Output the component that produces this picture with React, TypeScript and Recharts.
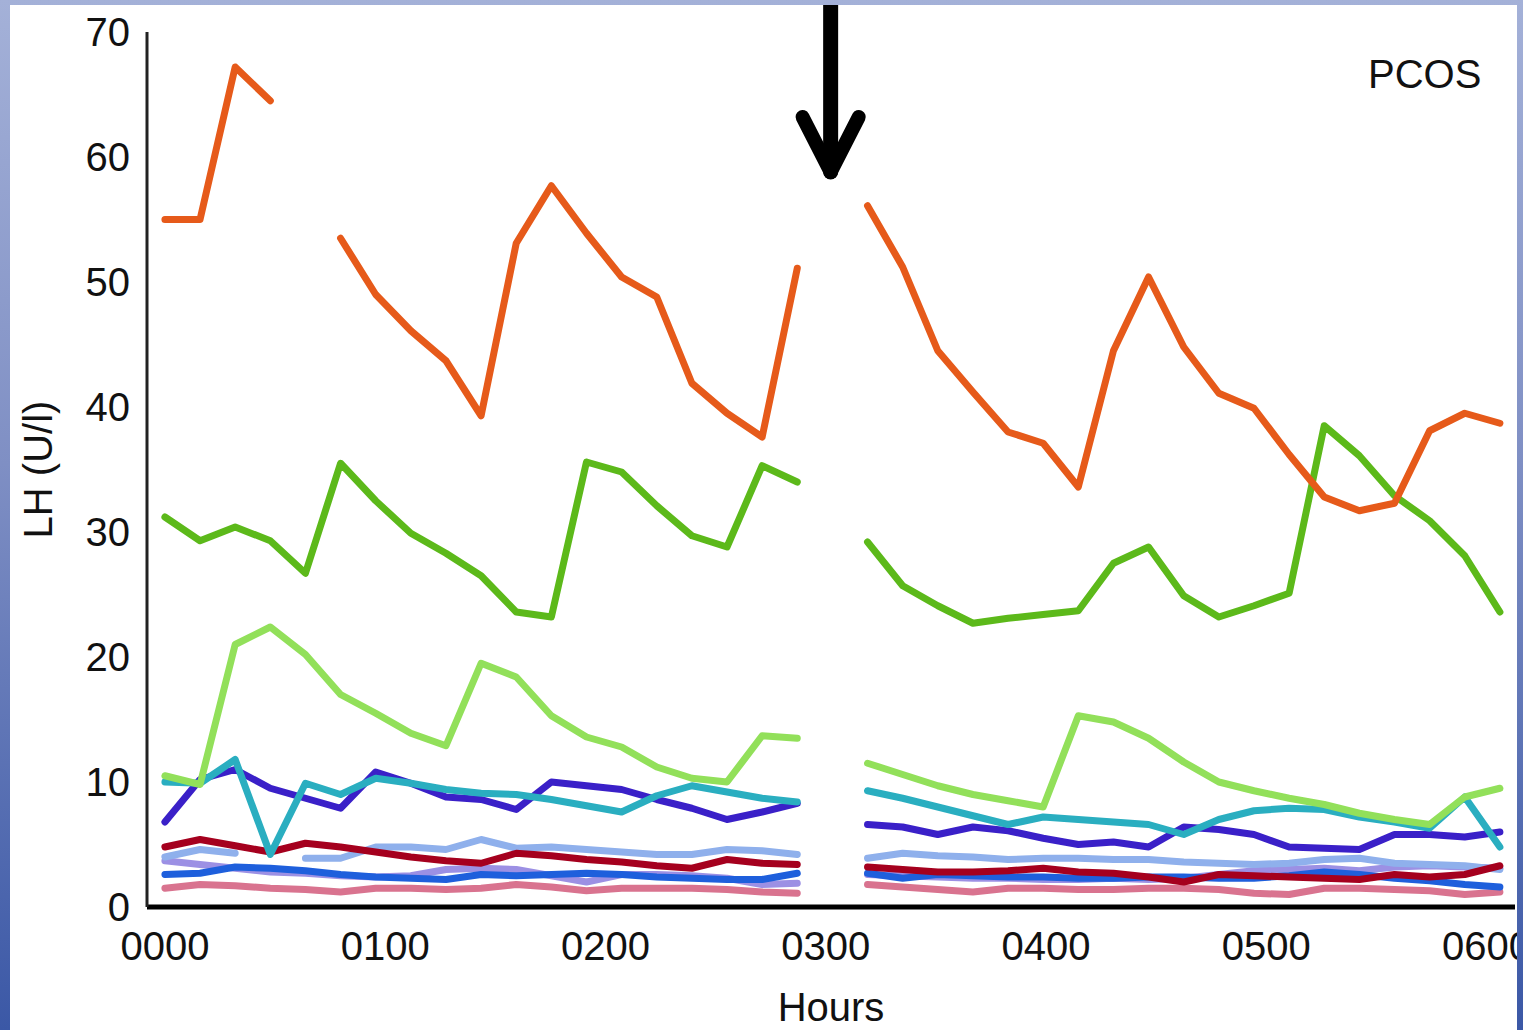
import { LineChart, Line, XAxis, YAxis, ReferenceLine } from "recharts";

const FONT = '"Liberation Sans", Arial, Helvetica, sans-serif';

// x axis: one slot per sample, slot 19 is the break in the recording
const hourLabels = ["0000", "0100", "0200", "0300", "0400", "0500", "0600"];
const SLOTS_PER_HOUR = 6.27;
const yTicks = [0, 10, 20, 30, 40, 50, 60, 70];

// LH (U/l) per patient
const orange = [55, 55, 67.2, 64.5, null, 53.5, 49, 46.1, 43.7, 39.3, 53.1, 57.7, 53.9, 50.4, 48.8, 41.9, 39.5, 37.6, 51.1, null, 56.1, 51.2, 44.5, 41.2, 38.0, 37.1, 33.6, 44.5, 50.4, 44.8, 41.1, 39.9, 36.2, 32.8, 31.7, 32.3, 38.1, 39.5, 38.7];
const green = [31.2, 29.3, 30.4, 29.3, 26.7, 35.5, 32.5, 29.9, 28.3, 26.5, 23.6, 23.2, 35.6, 34.8, 32.1, 29.7, 28.8, 35.3, 34.0, null, 29.2, 25.7, 24.1, 22.7, 23.1, 23.4, 23.7, 27.5, 28.8, 24.9, 23.2, 24.1, 25.1, 38.5, 36.1, 32.9, 30.9, 28.1, 23.6];
const lightGreen = [10.5, 9.8, 21.0, 22.4, 20.2, 17.0, 15.5, 13.9, 12.9, 19.5, 18.4, 15.3, 13.6, 12.8, 11.2, 10.3, 10.0, 13.7, 13.5, null, 11.5, 10.6, 9.7, 9.0, 8.5, 8.0, 15.3, 14.8, 13.5, 11.6, 10.0, 9.3, 8.7, 8.2, 7.5, 7.0, 6.6, 8.8, 9.5];
const indigo = [6.8, 10.2, 11.0, 9.5, 8.7, 7.9, 10.8, 9.9, 8.8, 8.6, 7.8, 10.0, 9.7, 9.4, 8.6, 7.9, 7.0, 7.6, 8.3, null, 6.6, 6.4, 5.8, 6.4, 6.1, 5.5, 5.0, 5.2, 4.8, 6.4, 6.2, 5.8, 4.8, 4.7, 4.6, 5.8, 5.8, 5.6, 6.0];
const teal = [10.0, 9.9, 11.8, 4.2, 9.9, 9.0, 10.3, 9.9, 9.4, 9.1, 9.0, 8.6, 8.1, 7.6, 8.9, 9.7, 9.2, 8.7, 8.4, null, 9.3, 8.7, 8.0, 7.3, 6.6, 7.2, 7.0, 6.8, 6.6, 5.8, 7.0, 7.7, 7.9, 7.8, 7.2, 6.8, 6.3, 8.8, 4.8];
const darkRed = [4.8, 5.4, 4.9, 4.4, 5.1, 4.8, 4.4, 4.0, 3.7, 3.5, 4.3, 4.1, 3.8, 3.6, 3.3, 3.1, 3.8, 3.5, 3.4, null, 3.2, 3.0, 2.8, 2.8, 2.9, 3.1, 2.8, 2.7, 2.4, 2.0, 2.6, 2.5, 2.4, 2.3, 2.2, 2.6, 2.4, 2.6, 3.3];
const lightBlue = [4.0, 4.6, 4.3, null, 3.9, 3.9, 4.8, 4.8, 4.6, 5.4, 4.7, 4.8, 4.6, 4.4, 4.2, 4.2, 4.6, 4.5, 4.2, null, 3.9, 4.3, 4.1, 4.0, 3.8, 3.9, 3.9, 3.8, 3.8, 3.6, 3.5, 3.4, 3.5, 3.8, 3.9, 3.5, 3.4, 3.3, 3.0];
const blue = [2.6, 2.7, 3.2, 3.1, 2.9, 2.6, 2.4, 2.3, 2.2, 2.6, 2.5, 2.6, 2.7, 2.6, 2.4, 2.3, 2.2, 2.2, 2.7, null, 2.7, 2.3, 2.6, 2.5, 2.4, 2.4, 2.3, 2.3, 2.4, 2.4, 2.3, 2.3, 2.5, 2.8, 2.6, 2.3, 2.1, 1.8, 1.6];
const lavender = [3.7, 3.4, 3.1, 2.8, 2.7, 2.5, 2.4, 2.5, 3.0, 3.1, 3.0, 2.5, 2.0, 2.6, 2.6, 2.5, 2.3, 1.8, 1.9, null, 2.6, 2.5, 2.4, 2.3, 2.3, 2.2, 2.2, 2.3, 2.2, 2.3, 2.6, 2.9, 3.0, 3.1, 2.9, 3.2, 3.3, 3.2, 3.1];
const pink = [1.5, 1.8, 1.7, 1.5, 1.4, 1.2, 1.5, 1.5, 1.4, 1.5, 1.8, 1.6, 1.3, 1.5, 1.5, 1.5, 1.4, 1.2, 1.1, null, 1.8, 1.6, 1.4, 1.2, 1.5, 1.5, 1.4, 1.4, 1.5, 1.5, 1.4, 1.1, 1.0, 1.5, 1.5, 1.4, 1.3, 1.0, 1.2];

// drawing order: bottom first
const series = [
  { key: "pink", values: pink, color: "#D9738F" },
  { key: "lavender", values: lavender, color: "#9C90E4" },
  { key: "blue", values: blue, color: "#1E5FDC" },
  { key: "lightBlue", values: lightBlue, color: "#8FB0EC" },
  { key: "darkRed", values: darkRed, color: "#A5001E" },
  { key: "indigo", values: indigo, color: "#3A20C8" },
  { key: "teal", values: teal, color: "#2AAEC0" },
  { key: "lightGreen", values: lightGreen, color: "#92E05A" },
  { key: "green", values: green, color: "#5CB91A" },
  { key: "orange", values: orange, color: "#E65A1A" },
];

const data = orange.map((_, i) => {
  const row: Record<string, number | null> = { slot: i };
  series.forEach((s) => {
    row[s.key] = s.values[i];
  });
  return row;
});

const hourTicks = hourLabels.map((_, i) => i * SLOTS_PER_HOUR);

// the arrow sits over the gap slot
const ARROW_SLOT = 18.95;

export default function App() {
  return (
    <div
      style={{
        position: "absolute",
        left: 0,
        top: 0,
        width: 1523,
        height: 1030,
        background: "linear-gradient(to bottom, #A4B1D8 0%, #7F8FC4 45%, #3B58A6 100%)",
        overflow: "hidden",
        fontFamily: FONT,
      }}
    >
      <div
        style={{
          position: "absolute",
          left: 10,
          top: 5,
          width: 1507,
          height: 1025,
          background: "#fff",
          overflow: "hidden",
        }}
      >
        <LineChart
          width={1507}
          height={1025}
          data={data}
          margin={{ top: 27, right: 2, left: 0, bottom: 0 }}
        >
          <XAxis
            dataKey="slot"
            type="number"
            domain={[-0.51, 38.43]}
            allowDataOverflow
            ticks={hourTicks}
            interval={0}
            tickFormatter={(_v: number, i: number) => hourLabels[i]}
            tickLine={false}
            tickSize={0}
            tickMargin={25}
            axisLine={{ stroke: "#000", strokeWidth: 5 }}
            tick={{ fill: "#111", fontSize: 40, fontFamily: FONT }}
            height={123}
            label={{
              value: "Hours",
              position: "insideBottom",
              offset: 9,
              style: { fill: "#111", fontSize: 40, fontFamily: FONT },
            }}
          />
          <YAxis
            domain={[0, 70]}
            ticks={yTicks}
            interval={0}
            tickLine={false}
            tickSize={0}
            tickMargin={17}
            axisLine={{ stroke: "#222", strokeWidth: 3 }}
            tick={{ fill: "#111", fontSize: 40, fontFamily: FONT }}
            width={137}
            label={{
              value: "LH (U/l)",
              angle: -90,
              position: "center",
              dx: -41,
              style: { fill: "#111", fontSize: 40, fontFamily: FONT, textAnchor: "middle" },
            }}
          />
          {series.map((s) => (
            <Line
              key={s.key}
              dataKey={s.key}
              type="linear"
              stroke={s.color}
              strokeWidth={7}
              strokeLinejoin="round"
              strokeLinecap="round"
              dot={false}
              activeDot={false}
              connectNulls={false}
              isAnimationActive={false}
            />
          ))}
          <ReferenceLine
            segment={[{ x: ARROW_SLOT, y: 73 }, { x: ARROW_SLOT, y: 58.8 }]}
            stroke="#000"
            strokeWidth={15}
            strokeLinecap="round"
            ifOverflow="visible"
          />
          <ReferenceLine
            segment={[{ x: ARROW_SLOT - 0.8, y: 63.2 }, { x: ARROW_SLOT, y: 58.8 }]}
            stroke="#000"
            strokeWidth={14}
            strokeLinecap="round"
            ifOverflow="visible"
          />
          <ReferenceLine
            segment={[{ x: ARROW_SLOT + 0.8, y: 63.2 }, { x: ARROW_SLOT, y: 58.8 }]}
            stroke="#000"
            strokeWidth={14}
            strokeLinecap="round"
            ifOverflow="visible"
          />
        </LineChart>
        <div
          style={{
            position: "absolute",
            left: 1358,
            top: 49,
            fontSize: 40,
            lineHeight: "40px",
            color: "#111",
            fontFamily: FONT,
          }}
        >
          PCOS
        </div>
      </div>
    </div>
  );
}
